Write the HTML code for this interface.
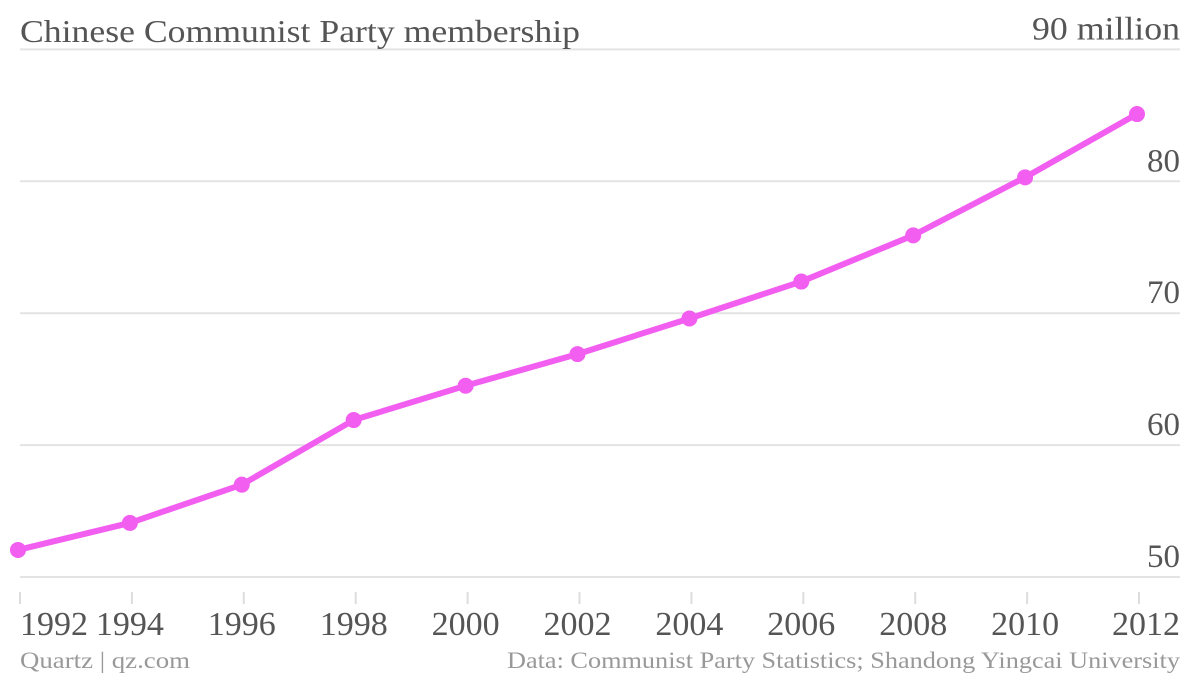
<!DOCTYPE html>
<html><head><meta charset="utf-8"><style>
body{margin:0;background:#fff;}
svg{display:block;font-family:"Liberation Serif",serif;}
</style></head><body>
<svg width="1200" height="676">
<g id="grid"></g><g id="xticks"></g><g id="series"></g>
<text x="20" y="42" font-size="32" fill="#555" textLength="560" lengthAdjust="spacingAndGlyphs">Chinese Communist Party membership</text>
<text x="20" y="668" font-size="23" fill="#999" textLength="170" lengthAdjust="spacingAndGlyphs">Quartz | qz.com</text>
<text x="507" y="668" font-size="23" fill="#999" textLength="673" lengthAdjust="spacingAndGlyphs">Data: Communist Party Statistics; Shandong Yingcai University</text>
</svg>
<script>
const years=[1992,1994,1996,1998,2000,2002,2004,2006,2008,2010,2012];
const members=[52.05,54.1,57.0,61.9,64.5,66.9,69.6,72.4,75.9,80.3,85.1];
const yTicks=[50,60,70,80,90];
const yTickLabels=["50","60","70","80","90 million"];
const NS="http://www.w3.org/2000/svg";
const x=v=>18+(v-1992)/20*(1137-18);
const y=v=>577-(v-50)*13.19;
function mk(tag,attrs,parent,txt){const e=document.createElementNS(NS,tag);for(const k in attrs)e.setAttribute(k,attrs[k]);if(txt!=null)e.textContent=txt;document.getElementById(parent).appendChild(e);return e;}
yTicks.forEach((t,i)=>{
 const l=mk('line',{x1:20,x2:1180,y1:y(t),y2:y(t),stroke:'#e3e3e3','stroke-width':2},'grid');
 
 
 const a={x:1180,y:y(t)-10,'font-size':33,fill:'#555','text-anchor':'end'};
 if(t===90){a.textLength=148;a.lengthAdjust='spacingAndGlyphs';a.x=1032;a['text-anchor']='start';}
 const tx=mk('text',a,'grid',yTickLabels[i]);
 
 
});
years.forEach((yr,i)=>{
 const xx=x(yr);
 const tk=mk('line',{x1:xx+2,x2:xx+2,y1:592,y2:604,stroke:'#ddd','stroke-width':2},'xticks');
 
 
 let anchor='middle',tx0=xx;
 if(i===0){anchor='start';tx0=20;}
 if(i===years.length-1){anchor='end';tx0=1180;}
 const t=mk('text',{x:tx0,y:635,'font-size':34,fill:'#555','text-anchor':anchor},'xticks',String(yr));
 
 
});
const pts=years.map((yr,i)=>x(yr)+','+y(members[i])).join(' ');
const pl=mk('polyline',{points:pts,fill:'none',stroke:'#f15ef0','stroke-width':6,'stroke-linejoin':'round'},'series');


years.forEach((yr,i)=>{
 const c=mk('circle',{cx:x(yr),cy:y(members[i]),r:8,fill:'#f15ef0'},'series');
 
 
});
</script>
</body></html>
